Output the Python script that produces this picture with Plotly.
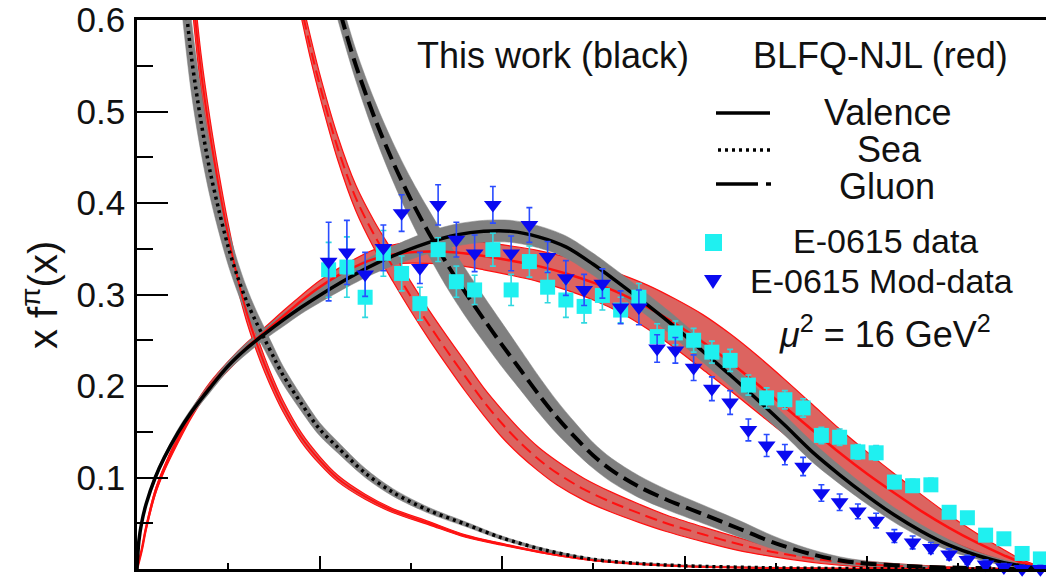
import plotly.graph_objects as go

# ---------------- curves: this work (black) ----------------
val_x = [0, 0.002, 0.005, 0.01, 0.02, 0.03, 0.045, 0.06, 0.08, 0.1, 0.12, 0.14, 0.16, 0.18, 0.2,
         0.23, 0.26, 0.29, 0.32, 0.35, 0.38, 0.41, 0.44, 0.47, 0.50, 0.53, 0.56, 0.59, 0.62, 0.65,
         0.68, 0.71, 0.74, 0.77, 0.80, 0.83, 0.86, 0.89, 0.92, 0.95, 0.98, 1.0]
val_y = [0, 0.03, 0.05, 0.071, 0.1, 0.122, 0.149, 0.172, 0.198, 0.222, 0.241, 0.257, 0.272, 0.286,
         0.299, 0.317, 0.333, 0.346, 0.357, 0.365, 0.369, 0.369, 0.363, 0.352, 0.333, 0.311, 0.288,
         0.264, 0.238, 0.212, 0.185, 0.157, 0.128, 0.103, 0.08, 0.059, 0.041, 0.026, 0.015, 0.007,
         0.002, 0]
val_hw = [0, 0.001, 0.001, 0.002, 0.003, 0.003, 0.004, 0.004, 0.005, 0.005, 0.006, 0.006, 0.007,
          0.007, 0.008, 0.009, 0.01, 0.011, 0.012, 0.012, 0.012, 0.012, 0.012, 0.012, 0.012, 0.012,
          0.012, 0.012, 0.012, 0.012, 0.012, 0.011, 0.011, 0.01, 0.009, 0.008, 0.007, 0.006, 0.004,
          0.003, 0.001, 0]

sea_x = [0.045, 0.05, 0.06, 0.07, 0.08, 0.09, 0.10, 0.11, 0.12, 0.13, 0.14, 0.15, 0.16, 0.18,
         0.20, 0.22, 0.25, 0.28, 0.32, 0.36, 0.40, 0.45, 0.50, 0.55, 0.60, 0.70, 0.80, 1.0]
sea_y = [0.71, 0.65, 0.557, 0.49, 0.435, 0.391, 0.352, 0.32, 0.293, 0.271, 0.251, 0.231, 0.212,
         0.181, 0.153, 0.133, 0.105, 0.084, 0.064, 0.049, 0.034, 0.02, 0.0105, 0.006, 0.0035,
         0.0012, 0.0004, 0]
sea_hw = [0.053, 0.048, 0.04, 0.034, 0.028, 0.024, 0.02, 0.017, 0.015, 0.013, 0.012, 0.011, 0.0098,
          0.0085, 0.0072, 0.0062, 0.005, 0.0041, 0.0032, 0.0026, 0.002, 0.0016, 0.0013, 0.0012,
          0.001, 0.0008, 0.0005, 0]

glu_x = [0.21, 0.225, 0.24, 0.26, 0.28, 0.30, 0.32, 0.34, 0.36, 0.38, 0.40, 0.42, 0.44, 0.46,
         0.48, 0.50, 0.52, 0.55, 0.58, 0.62, 0.66, 0.70, 0.74, 0.78, 0.85, 0.92, 1.0]
glu_y = [0.655, 0.6, 0.55, 0.494, 0.446, 0.404, 0.367, 0.333, 0.302, 0.273, 0.245, 0.218, 0.191,
         0.166, 0.144, 0.124, 0.108, 0.09, 0.076, 0.06, 0.044, 0.028, 0.016, 0.008, 0.003, 0.001, 0]
glu_hw = [0.018, 0.017, 0.017, 0.019, 0.021, 0.023, 0.025, 0.026, 0.026, 0.025, 0.024, 0.022, 0.02,
          0.018, 0.016, 0.014, 0.013, 0.012, 0.011, 0.01, 0.009, 0.007, 0.005, 0.0035, 0.0015,
          0.0005, 0]

# ---------------- curves: BLFQ-NJL (red) ----------------
nval_x = [0, 0.005, 0.01, 0.02, 0.03, 0.045, 0.06, 0.08, 0.1, 0.12, 0.14, 0.16, 0.18, 0.2, 0.23,
          0.26, 0.29, 0.32, 0.35, 0.38, 0.41, 0.44, 0.47, 0.50, 0.53, 0.56, 0.59, 0.62, 0.65, 0.68,
          0.71, 0.74, 0.77, 0.80, 0.83, 0.86, 0.89, 0.92, 0.95, 0.97, 1.0]
nval_y = [0, 0.02, 0.045, 0.084, 0.11, 0.142, 0.17, 0.2, 0.222, 0.242, 0.259, 0.276, 0.293, 0.308,
          0.326, 0.339, 0.345, 0.347, 0.346, 0.342, 0.337, 0.331, 0.323, 0.313, 0.301, 0.286,
          0.268, 0.248, 0.226, 0.202, 0.177, 0.152, 0.127, 0.104, 0.083, 0.063, 0.045, 0.029,
          0.015, 0.007, 0]
nval_hw = [0, 0.001, 0.002, 0.003, 0.003, 0.004, 0.004, 0.004, 0.005, 0.005, 0.005, 0.006, 0.006,
           0.007, 0.008, 0.01, 0.011, 0.013, 0.014, 0.015, 0.016, 0.017, 0.018, 0.019, 0.021,
           0.024, 0.027, 0.03, 0.031, 0.031, 0.03, 0.028, 0.026, 0.024, 0.021, 0.018, 0.014, 0.01,
           0.006, 0.003, 0]

nsea_x = [0.05, 0.06, 0.07, 0.08, 0.09, 0.10, 0.11, 0.12, 0.13, 0.14, 0.15, 0.16, 0.18, 0.20,
          0.22, 0.25, 0.28, 0.32, 0.36, 0.40, 0.45, 0.50, 0.55, 0.60, 0.70, 0.80, 1.0]
nsea_y = [0.768, 0.642, 0.545, 0.475, 0.416, 0.364, 0.319, 0.281, 0.25, 0.223, 0.199, 0.178, 0.144,
          0.119, 0.099, 0.079, 0.064, 0.05, 0.036, 0.027, 0.017, 0.0095, 0.0055, 0.003, 0.001,
          0.0003, 0]
nsea_hw = [0.027, 0.022, 0.019, 0.017, 0.015, 0.013, 0.011, 0.01, 0.009, 0.008, 0.007, 0.0062,
           0.005, 0.0042, 0.0035, 0.0028, 0.0022, 0.0018, 0.0013, 0.001, 0.0006, 0.0004, 0.0002,
           0.0001, 0.00005, 0, 0]

nglu_x = [0.17, 0.18, 0.19, 0.20, 0.22, 0.24, 0.26, 0.28, 0.30, 0.32, 0.34, 0.36, 0.38, 0.40, 0.42,
          0.44, 0.46, 0.49, 0.52, 0.55, 0.58, 0.62, 0.66, 0.70, 0.75, 0.80, 0.90, 1.0]
nglu_y = [0.66, 0.614, 0.57, 0.53, 0.46, 0.405, 0.365, 0.331, 0.298, 0.267, 0.238, 0.21, 0.183,
          0.159, 0.138, 0.12, 0.105, 0.087, 0.073, 0.061, 0.05, 0.038, 0.027, 0.018, 0.01, 0.005,
          0.001, 0]
nglu_hw = [0.011, 0.011, 0.012, 0.012, 0.013, 0.014, 0.015, 0.016, 0.016, 0.016, 0.016, 0.016,
           0.015, 0.015, 0.014, 0.013, 0.013, 0.012, 0.011, 0.01, 0.009, 0.008, 0.007, 0.005,
           0.004, 0.003, 0.001, 0]

# ---------------- E-0615 data points ----------------
e615_x = [0.21, 0.23, 0.25, 0.27, 0.29, 0.31, 0.33, 0.35, 0.37, 0.39, 0.41, 0.43, 0.45, 0.47,
          0.49, 0.51, 0.53, 0.55, 0.57, 0.59, 0.61, 0.63, 0.65, 0.67, 0.69, 0.71, 0.73, 0.75,
          0.77, 0.79, 0.81, 0.83, 0.85, 0.87, 0.89, 0.91, 0.93, 0.95, 0.97, 0.99]
e615_y = [0.327, 0.33, 0.297, 0.345, 0.323, 0.29, 0.349, 0.314, 0.305, 0.349, 0.305, 0.336, 0.308,
          0.294, 0.287, 0.299, 0.283, 0.297, 0.254, 0.258, 0.25, 0.237, 0.228, 0.201, 0.187, 0.185,
          0.176, 0.146, 0.144, 0.128, 0.127, 0.095, 0.091, 0.092, 0.062, 0.056, 0.037, 0.033,
          0.017, 0.011]
e615_err = [0.03, 0.033, 0.022, 0.025, 0.019, 0.018, 0.013, 0.017, 0.016, 0.018, 0.017, 0.017,
            0.017, 0.019, 0.018, 0.016, 0.014, 0.015, 0.014, 0.013, 0.013, 0.012, 0.012, 0.011,
            0.011, 0.010, 0.010, 0.009, 0.009, 0.008, 0.008, 0.007, 0.007, 0.007, 0.006, 0.006,
            0.005, 0.005, 0.004, 0.004]

mod_y = [0.336, 0.346, 0.322, 0.351, 0.389, 0.329, 0.398, 0.36, 0.345, 0.398, 0.345, 0.376, 0.341,
         0.318, 0.305, 0.312, 0.286, 0.286, 0.241, 0.239, 0.22, 0.197, 0.182, 0.152, 0.135, 0.125,
         0.112, 0.083, 0.073, 0.063, 0.053, 0.036, 0.029, 0.023, 0.016, 0.01, 0.005, 0.002, 0.0, 0.0]
mod_err = [0.043, 0.035, 0.024, 0.025, 0.02, 0.017, 0.022, 0.019, 0.02, 0.02, 0.019, 0.019, 0.017,
           0.019, 0.017, 0.016, 0.018, 0.019, 0.015, 0.014, 0.014, 0.013, 0.013, 0.012, 0.012,
           0.011, 0.01, 0.009, 0.009, 0.008, 0.008, 0.007, 0.007, 0.006, 0.006, 0.005, 0.005,
           0.004, 0.004, 0.004]

y_ticks = [0, 0.1, 0.2, 0.3, 0.4, 0.5, 0.6]
y_ticktext = ["0", "0.1", "0.2", "0.3", "0.4", "0.5", "0.6"]

FONT = "Liberation Sans, Arial, sans-serif"
TXT = "#111111"
RED = "#ff1010"
RED_FILL = "#dc6460"
GRAY = "#808080"
SMOOTH = 0.9

fig = go.Figure()


def add_band(x, y, hw, fill, edge=None, edge_w=0.0):
    lo = [max(c - h, 0.0) for c, h in zip(y, hw)]
    hi = [c + h for c, h in zip(y, hw)]
    ec = edge if edge else fill
    ew = edge_w if edge else 0.5
    fig.add_trace(go.Scatter(x=x, y=lo, mode="lines", hoverinfo="skip",
                             line=dict(color=ec, width=ew, shape="spline", smoothing=SMOOTH)))
    fig.add_trace(go.Scatter(x=x, y=hi, mode="lines", hoverinfo="skip", fill="tonexty",
                             fillcolor=fill,
                             line=dict(color=ec, width=ew, shape="spline", smoothing=SMOOTH)))


def add_line(x, y, color, width, dash="solid"):
    fig.add_trace(go.Scatter(x=x, y=y, mode="lines", hoverinfo="skip",
                             line=dict(color=color, width=width, dash=dash,
                                       shape="spline", smoothing=SMOOTH)))


# red uncertainty bands
add_band(nval_x, nval_y, nval_hw, RED_FILL, RED, 1.2)
add_band(nsea_x, nsea_y, nsea_hw, RED_FILL, RED, 1.2)
add_band(nglu_x, nglu_y, nglu_hw, RED_FILL, RED, 1.2)

# gray uncertainty bands
add_band(val_x, val_y, val_hw, GRAY)
add_band(sea_x, sea_y, sea_hw, GRAY)
add_band(glu_x, glu_y, glu_hw, GRAY)

# red central curves
add_line(nval_x, nval_y, RED, 2.5)
add_line(nsea_x, nsea_y, RED, 2.0)
add_line(nglu_x, nglu_y, RED, 2.0, dash="12px,6px")

# black central curves
add_line(val_x, val_y, "black", 3.5)
add_line(sea_x, sea_y, "black", 3.5, dash="3px,4px")
add_line(glu_x, glu_y, "black", 4.0, dash="16px,7px")

# data
fig.add_trace(go.Scatter(
    x=e615_x, y=e615_y, mode="markers", cliponaxis=False,
    marker=dict(symbol="square", size=15, color="#1ff0f0", line=dict(width=0)),
    error_y=dict(type="data", array=e615_err, color="#30d8e0", thickness=1.6, width=3),
))
fig.add_trace(go.Scatter(
    x=e615_x, y=mod_y, mode="markers", cliponaxis=False,
    marker=dict(symbol="triangle-down", size=15.5, color="#0a0af0", line=dict(width=0)),
    error_y=dict(type="data", array=mod_err, color="#2a4cff", thickness=1.6, width=3),
))

# ---------------- annotations / legend ----------------
L, T, R, B = 137, 20, 1046, 569


def px(xp):
    return (xp - L) / (R - L)


def py(yp):
    return (B - yp) / (B - T)


annos = []


def text(s, xc, yc, size=36, **kw):
    annos.append(dict(text=s, x=px(xc), y=py(yc), xref="paper", yref="paper",
                      xanchor="center", yanchor="middle", showarrow=False,
                      font=dict(family=FONT, size=size, color=TXT), **kw))


text("This work (black)", 553, 55)
text("BLFQ-NJL (red)", 880, 55)
text("Valence", 887, 113)
text("Sea", 889, 150)
text("Gluon", 887, 186)
text("E-0615 data", 885, 241, size=34)
text("E-0615 Mod-data", 881, 281, size=34)
text("<i>μ</i><sup>2</sup> = 16 GeV<sup>2</sup>", 885, 332)
text("x f<sup>π</sup>(x)", 40, 295, size=40, textangle=-90)

shapes = []


def seg(x0, x1, yp, dash="solid", w=3.5):
    shapes.append(dict(type="line", xref="paper", yref="paper",
                       x0=px(x0), x1=px(x1), y0=py(yp), y1=py(yp),
                       line=dict(color="black", width=w, dash=dash)))


seg(716, 770, 113)
seg(718, 770, 150, dash="3px,4px")
seg(716, 758, 184)
seg(766, 771, 184)

# legend marker keys
shapes.append(dict(type="rect", xref="paper", yref="paper",
                   x0=px(705), x1=px(722), y0=py(251), y1=py(234),
                   fillcolor="#1ff0f0", line=dict(width=0)))
shapes.append(dict(type="path", xref="paper", yref="paper",
                   path=f"M {px(704)} {py(275)} L {px(722)} {py(275)} L {px(713)} {py(289)} Z",
                   fillcolor="#0a0af0", line=dict(width=0)))

fig.update_layout(
    width=1046, height=581,
    margin=dict(l=L, r=1046 - R, t=T, b=581 - B, autoexpand=False),
    paper_bgcolor="white", plot_bgcolor="white",
    showlegend=False,
    annotations=annos, shapes=shapes,
    xaxis=dict(range=[0, (R - L) / 912.5], showticklabels=False, showgrid=False,
               zeroline=False, showline=True, linecolor="black", linewidth=2.5,
               mirror=True, ticks="inside", ticklen=13, tickwidth=2, tickcolor="black",
               tick0=0, dtick=0.2,
               minor=dict(ticks="inside", ticklen=6, tickwidth=2, tickcolor="black",
                          tick0=0, dtick=0.1)),
    yaxis=dict(range=[0, 0.6], tickvals=y_ticks, ticktext=y_ticktext, showgrid=False,
               zeroline=False, showline=True, linecolor="black", linewidth=2.5,
               ticks="inside", ticklen=31, tickwidth=2, tickcolor="black",
               ticklabelstandoff=2,
               tickfont=dict(family=FONT, size=35, color=TXT),
               minor=dict(ticks="inside", ticklen=16, tickwidth=2, tickcolor="black",
                          tick0=0, dtick=0.05)),
)

fig.write_html("out.html")
